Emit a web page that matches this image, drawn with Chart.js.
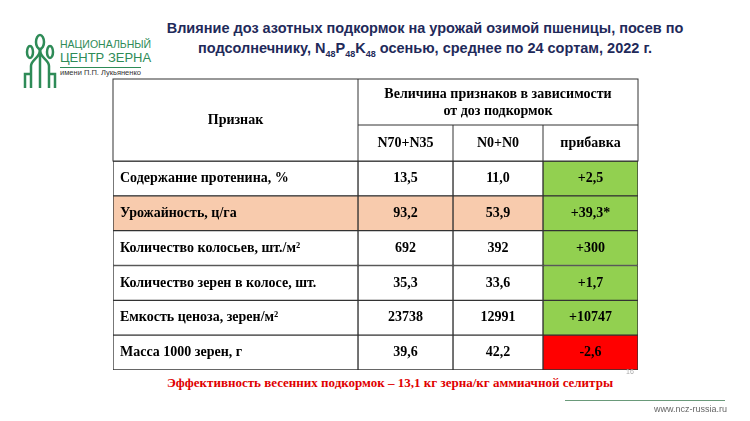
<!DOCTYPE html>
<html><head><meta charset="utf-8">
<script src="https://cdn.jsdelivr.net/npm/chart.js@4.4.0/dist/chart.umd.min.js"></script>
<style>
body{margin:0;width:750px;height:421px;background:#fff;position:relative;overflow:hidden;font-family:"Liberation Sans",Arial,sans-serif}
#title{position:absolute;left:155px;top:18px;width:540px;text-align:center;font-weight:bold;font-size:14.5px;line-height:20px;color:#1f2a5a}
#title sub{font-size:9px}
#logo{position:absolute;left:22px;top:30px}
#logotxt{position:absolute;left:60px;top:38px;color:#2e8b57;font-size:10.5px;line-height:12px}
#foot{position:absolute;left:0;width:780px;top:375px;text-align:center;color:#e00000;font:bold 13px "Liberation Serif",serif}
#pg{position:absolute;left:626px;top:368px;color:#aaa;font-size:7px}
#line{position:absolute;left:565px;top:400px;width:160px;border-top:1px solid #6a9a7a}
#url{position:absolute;left:654px;top:404px;color:#666;font-size:9px}
#wrap{position:absolute;left:112px;top:78px;width:527px;height:293px}
</style></head><body>
<svg id="logo" width="36" height="64" viewBox="0 0 36 64"><g fill="none" stroke="#2e8b57" stroke-width="2.5">
<path d="M18 58V20"/><path d="M9 58V36c0-6 9-8 9-16"/><path d="M27 58V36c0-6-9-8-9-16"/>
<path d="M3 58V44h6M33 58V44h-6"/><ellipse cx="18" cy="12" rx="4" ry="7"/><ellipse cx="8" cy="22" rx="3" ry="6"/><ellipse cx="28" cy="22" rx="3" ry="6"/></g></svg>
<div id="logotxt">НАЦИОНАЛЬНЫЙ<br><span style="font-size:13px;line-height:15px">ЦЕНТР ЗЕРНА</span><br><span style="font-size:7.5px;color:#333;border-top:1px solid #2e8b57">имени П.П. Лукьяненко</span></div>
<div id="title">Влияние доз азотных подкормок на урожай озимой пшеницы, посев по подсолнечнику, N<sub>48</sub>P<sub>48</sub>K<sub>48</sub> осенью, среднее по 24 сортам, 2022 г.</div>
<div id="wrap"><canvas id="c"></canvas></div>
<div id="foot">Эффективность весенних подкормок – 13,1 кг зерна/кг аммиачной селитры</div>
<div id="pg">16</div><div id="line"></div><div id="url">www.ncz-russia.ru</div>
<script>
const rows = ["Содержание протенина, %","Урожайность, ц/га","Количество колосьев, шт./м²","Количество зерен в колосе, шт.","Емкость ценоза, зерен/м²","Масса 1000 зерен, г"]
const colHeaders = ["N70+N35","N0+N0","прибавка"]
const valN70 = ["13,5","93,2","692","35,3","23738","39,6"]
const valN0 = ["11,0","53,9","392","33,6","12991","42,2"]
const gain = ["+2,5","+39,3*","+300","+1,7","+10747","-2,6"]

const edges = [0,245,340,430,525]
const rowFill = ["#fff","#f8cbad","#fff","#fff","#fff","#fff"]
const gainFill = gain.map(g=>g.startsWith("-")?"#ff0000":"#92d050")
const texts = [rows,valN70,valN0,gain]

const datasets = texts.map((t,i)=>({
data: rows.map(()=>[edges[i],edges[i+1]]),
backgroundColor: i===3 ? gainFill : rowFill,
borderColor:"#333",borderWidth:1,borderSkipped:false,
barPercentage:1,categoryPercentage:1,grouped:false
}))

const tablePlugin = {
id:"table",
afterDatasetsDraw(chart){
const ctx = chart.ctx, x = chart.scales.x, y = chart.scales.y, a = chart.chartArea
ctx.save()
ctx.textBaseline="middle"
ctx.fillStyle="#000"
chart.data.labels.forEach((r,ri)=>{
let cy = y.getPixelForValue(ri)
texts.forEach((t,ci)=>{
ctx.font='bold 14px "Liberation Serif",serif'
if(ci===0){ctx.textAlign="left";ctx.fillText(t[ri],x.getPixelForValue(edges[0])+7,cy)}
else{ctx.textAlign="center";ctx.fillText(t[ri],(x.getPixelForValue(edges[ci])+x.getPixelForValue(edges[ci+1]))/2,cy)}
})
})
// header
let top = 1, mid = 47, bot = a.top
ctx.strokeStyle="#333";ctx.lineWidth=1
ctx.strokeRect(x.getPixelForValue(0),top,x.getPixelForValue(525)-x.getPixelForValue(0),bot-top)
ctx.beginPath()
edges.slice(1,4).forEach((e,i)=>{let px=x.getPixelForValue(e);ctx.moveTo(px,i===0?top:mid);ctx.lineTo(px,bot)})
ctx.moveTo(x.getPixelForValue(edges[1]),mid);ctx.lineTo(x.getPixelForValue(525),mid)
ctx.stroke()
ctx.textAlign="center"
ctx.font='bold 14px "Liberation Serif",serif'
ctx.fillText("Признак",(x.getPixelForValue(edges[0])+x.getPixelForValue(edges[1]))/2,(top+bot)/2)
let cx=(x.getPixelForValue(edges[1])+x.getPixelForValue(525))/2
ctx.fillText("Величина признаков в зависимости",cx,16)
ctx.fillText("от доз подкормок",cx,33)
colHeaders.forEach((h,i)=>ctx.fillText(h,(x.getPixelForValue(edges[i+1])+x.getPixelForValue(edges[i+2]))/2,(mid+bot)/2))
ctx.restore()
}
}

new Chart(document.getElementById("c"),{
type:"bar",
data:{labels:rows,datasets:datasets},
options:{
indexAxis:"y",responsive:true,maintainAspectRatio:false,animation:false,
layout:{padding:{top:83,left:1,right:1,bottom:1}},
plugins:{legend:{display:false},tooltip:{enabled:false}},
scales:{
x:{display:false,min:0,max:525},
y:{display:false}
}
},
plugins:[tablePlugin]
})
</script>
</body></html>
